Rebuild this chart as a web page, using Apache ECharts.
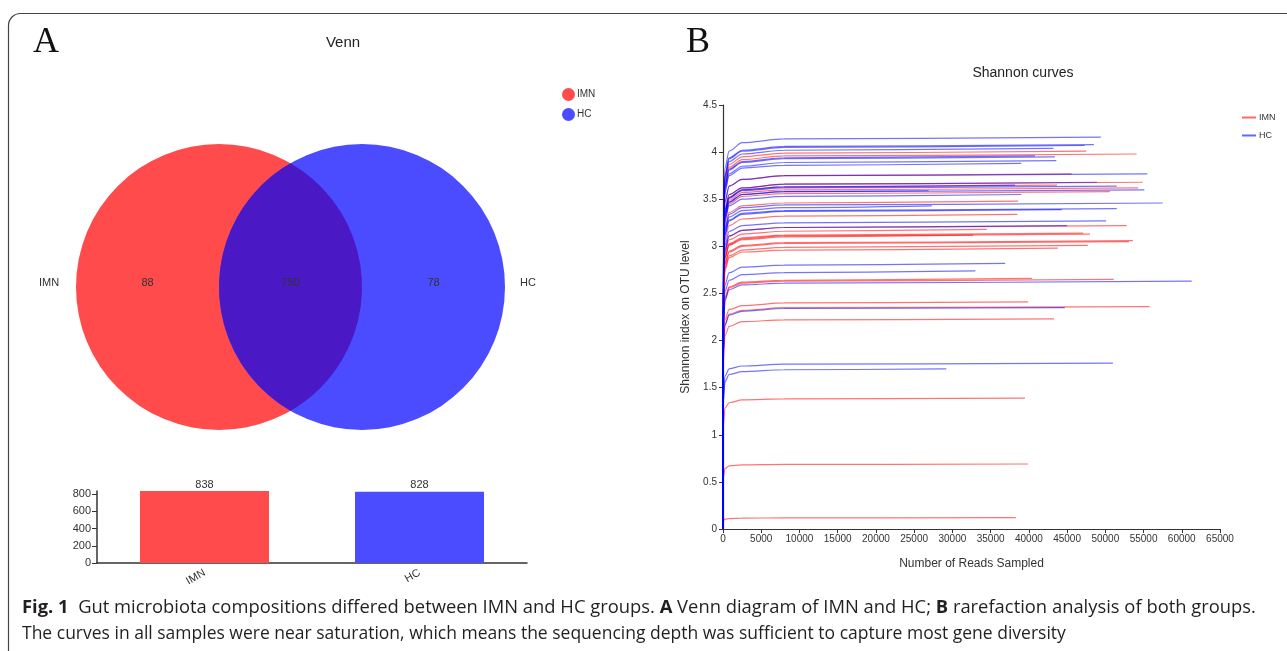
<!DOCTYPE html>
<html><head><meta charset="utf-8">
<script src="https://cdn.jsdelivr.net/npm/echarts@6/dist/echarts.min.js"></script>
<style>html,body{margin:0;padding:0;background:#fff}#c{width:1287px;height:651px}</style>
</head><body><div id="c"></div>
<script>
// ---------- data ----------
const groups = ['IMN', 'HC'];
const vennCounts = [88, 750, 78];          // IMN only, shared, HC only
const totalCounts = [838, 828];            // IMN, HC
const sampleDepths = [0, 60, 250, 800, 2500, 8000]; // reads sampled (shared early points)

// final sequencing depth of each IMN sample
const imnDepth = [47500, 54100, 45600, 54900, 43700, 54300, 50600, 38600, 38500, 52800, 34500, 47100, 48000,
  32700, 53600, 53100, 47700, 43800, 40400, 51100, 39900, 55800, 43300, 39500, 39900, 38300];
// Shannon value at each sampleDepths point, last entry = value at final depth
const imnCurves = [
  [0, 3.21, 3.69, 3.87, 3.95, 3.99, 4.01],
  [0, 3.18, 3.66, 3.84, 3.92, 3.96, 3.98],
  [0, 3.02, 3.47, 3.64, 3.71, 3.75, 3.77],
  [0, 2.94, 3.39, 3.55, 3.62, 3.66, 3.68],
  [0, 2.92, 3.36, 3.52, 3.60, 3.63, 3.65],
  [0, 2.90, 3.33, 3.49, 3.57, 3.60, 3.62],
  [0, 2.86, 3.29, 3.45, 3.53, 3.56, 3.58],
  [0, 2.78, 3.20, 3.36, 3.43, 3.46, 3.48],
  [0, 2.67, 3.07, 3.22, 3.29, 3.32, 3.34],
  [0, 2.58, 2.96, 3.11, 3.17, 3.20, 3.22],
  [0, 2.54, 2.93, 3.07, 3.13, 3.16, 3.18],
  [0, 2.51, 2.89, 3.03, 3.09, 3.12, 3.14],
  [0, 2.50, 2.88, 3.02, 3.08, 3.11, 3.13],
  [0, 2.50, 2.87, 3.01, 3.07, 3.10, 3.12],
  [0, 2.45, 2.82, 2.95, 3.01, 3.04, 3.06],
  [0, 2.44, 2.81, 2.94, 3.00, 3.03, 3.05],
  [0, 2.41, 2.77, 2.90, 2.96, 2.99, 3.01],
  [0, 2.38, 2.74, 2.88, 2.94, 2.96, 2.98],
  [0, 2.13, 2.45, 2.57, 2.62, 2.64, 2.66],
  [0, 2.12, 2.44, 2.56, 2.61, 2.63, 2.65],
  [0, 1.93, 2.22, 2.33, 2.37, 2.40, 2.41],
  [0, 1.89, 2.17, 2.28, 2.32, 2.35, 2.36],
  [0, 1.78, 2.05, 2.15, 2.20, 2.22, 2.23],
  [0, 1.11, 1.28, 1.34, 1.37, 1.38, 1.39],
  [0, 0.55, 0.64, 0.67, 0.68, 0.685, 0.69],
  [0, 0.09, 0.105, 0.11, 0.115, 0.118, 0.12]
];

const hcDepth = [49400, 48500, 47300, 43200, 40800, 43400, 43600, 39000, 55500, 48900, 38200, 51500, 55100,
  26900, 39000, 57500, 27300, 44300, 51500, 50100, 45000, 36900, 33000, 61300, 44700, 51000, 29200];
const hcCurves = [
  [0, 3.33, 3.83, 4.01, 4.10, 4.14, 4.16],
  [0, 3.26, 3.75, 3.94, 4.02, 4.06, 4.08],
  [0, 3.26, 3.74, 3.93, 4.01, 4.05, 4.07],
  [0, 3.23, 3.72, 3.90, 3.98, 4.02, 4.04],
  [0, 3.17, 3.64, 3.82, 3.90, 3.94, 3.96],
  [0, 3.16, 3.63, 3.81, 3.89, 3.93, 3.95],
  [0, 3.13, 3.60, 3.77, 3.85, 3.89, 3.91],
  [0, 3.11, 3.57, 3.75, 3.83, 3.86, 3.88],
  [0, 3.02, 3.47, 3.64, 3.71, 3.75, 3.77],
  [0, 2.94, 3.39, 3.55, 3.62, 3.66, 3.68],
  [0, 2.92, 3.36, 3.52, 3.60, 3.63, 3.65],
  [0, 2.91, 3.35, 3.51, 3.59, 3.62, 3.64],
  [0, 2.88, 3.31, 3.47, 3.55, 3.58, 3.60],
  [0, 2.88, 3.31, 3.47, 3.55, 3.58, 3.59],
  [0, 2.84, 3.27, 3.43, 3.50, 3.53, 3.55],
  [0, 2.77, 3.18, 3.34, 3.41, 3.44, 3.46],
  [0, 2.74, 3.16, 3.31, 3.38, 3.41, 3.43],
  [0, 2.71, 3.12, 3.27, 3.34, 3.37, 3.39],
  [0, 2.72, 3.13, 3.28, 3.35, 3.38, 3.40],
  [0, 2.62, 3.01, 3.16, 3.22, 3.25, 3.27],
  [0, 2.58, 2.96, 3.11, 3.17, 3.20, 3.22],
  [0, 2.26, 2.59, 2.72, 2.78, 2.80, 2.82],
  [0, 2.19, 2.52, 2.64, 2.70, 2.72, 2.74],
  [0, 2.10, 2.42, 2.54, 2.59, 2.61, 2.63],
  [0, 1.88, 2.16, 2.27, 2.31, 2.34, 2.35],
  [0, 1.41, 1.62, 1.70, 1.73, 1.75, 1.76],
  [0, 1.36, 1.56, 1.64, 1.67, 1.69, 1.70]
];

// ---------- style / layout ----------
const COL = { imn: '#ff4b4b', hc: '#4b4bff', shared: '#4a18c4', imnLine: 'rgba(255,0,0,0.55)', hcLine: 'rgba(0,0,255,0.55)', text: '#333' };
const VENN = { cxL: 219, cxR: 362, cy: 287, r: 143 };
const FONT = 'Liberation Sans, Arial, sans-serif';
const CAPFONT = '"Open Sans", "Liberation Sans", sans-serif';

function curveSeries(name, color, depths, curves) {
  return curves.map((vals, i) => ({
    type: 'line', name: name, xAxisIndex: 1, yAxisIndex: 1,
    showSymbol: false, symbol: 'none', silent: true,
    smooth: 0.3, smoothMonotone: 'x',
    lineStyle: { width: 1.2, color: color },
    itemStyle: { color: color },
    data: sampleDepths.map((x, k) => [x, vals[k]]).concat([[depths[i], vals[6]]])
  }));
}

const vennSeries = {
  type: 'custom', name: 'venn', coordinateSystem: 'none', silent: true,
  data: [vennCounts],
  renderItem: function (params, api) {
    const L = VENN.cxL, R = VENN.cxR, cy = VENN.cy, r = VENN.r;
    const mx = (L + R) / 2, a = (R - L) / 2, h = Math.sqrt(r * r - a * a);
    const lens = 'M' + mx + ' ' + (cy - h) + ' A' + r + ' ' + r + ' 0 0 1 ' + mx + ' ' + (cy + h) +
      ' A' + r + ' ' + r + ' 0 0 1 ' + mx + ' ' + (cy - h) + ' Z';
    const t = (txt, x) => ({ type: 'text', style: { text: String(txt), x: x, y: cy - 4, textAlign: 'center', textVerticalAlign: 'middle', fill: COL.text, font: '11px ' + FONT } });
    return { type: 'group', children: [
      { type: 'circle', shape: { cx: L, cy: cy, r: r }, style: { fill: COL.imn } },
      { type: 'circle', shape: { cx: R, cy: cy, r: r }, style: { fill: COL.hc } },
      { type: 'path', shape: { pathData: lens }, style: { fill: COL.shared } },
      t(api.value(0), (L - r + (R - r)) / 2),
      t(api.value(1), mx),
      t(api.value(2), (L + r + R + r) / 2),
      t(groups[0], L - r - 27),
      t(groups[1], R + r + 23)
    ] };
  }
};

const chart = echarts.init(document.getElementById('c'), null, { renderer: 'canvas' });
const axisCol = '#333';
chart.setOption({
  backgroundColor: '#fff',
  animation: false,
  textStyle: { fontFamily: FONT },
  grid: [
    { left: 97, top: 491, width: 430, height: 72 },
    { left: 723, top: 105, width: 497, height: 424 }
  ],
  xAxis: [
    { type: 'category', gridIndex: 0, data: groups,
      axisLine: { lineStyle: { color: axisCol, width: 1.5 } },
      axisTick: { alignWithLabel: true, length: 5, lineStyle: { color: axisCol } },
      axisLabel: { rotate: 30, fontSize: 11, color: axisCol, margin: 9 } },
    { type: 'value', gridIndex: 1, min: 0, max: 65000, interval: 5000,
      name: 'Number of Reads Sampled', nameLocation: 'middle', nameGap: 29,
      nameTextStyle: { fontSize: 12, color: axisCol },
      splitLine: { show: false },
      axisLine: { lineStyle: { color: axisCol, width: 1.2 } },
      axisTick: { length: 4, lineStyle: { color: axisCol } },
      axisLabel: { fontSize: 10, color: axisCol, margin: 5, formatter: v => String(v) } }
  ],
  yAxis: [
    { type: 'value', gridIndex: 0, min: 0, max: 838, interval: 200,
      splitLine: { show: false },
      axisLine: { show: true, lineStyle: { color: axisCol, width: 1.5 } },
      axisTick: { show: true, length: 5, lineStyle: { color: axisCol } },
      axisLabel: { fontSize: 11, color: axisCol, margin: 6 } },
    { type: 'value', gridIndex: 1, min: 0, max: 4.5, interval: 0.5,
      name: 'Shannon index on OTU level', nameLocation: 'middle', nameGap: 31, nameRotate: 90,
      nameTextStyle: { fontSize: 12, color: axisCol },
      splitLine: { show: false },
      axisLine: { show: true, lineStyle: { color: axisCol, width: 1.2 } },
      axisTick: { show: true, length: 4, lineStyle: { color: axisCol } },
      axisLabel: { fontSize: 10, color: axisCol, margin: 6 } }
  ],
  legend: [
    { orient: 'vertical', left: 557, top: 83, itemWidth: 13, itemHeight: 13, itemGap: 7, selectedMode: false,
      textStyle: { fontSize: 10, color: axisCol, padding: [0, 0, 0, -3] },
      data: [{ name: 'IMN', icon: 'circle', itemStyle: { color: COL.imn } },
             { name: 'HC', icon: 'circle', itemStyle: { color: COL.hc } }] },
    { orient: 'vertical', left: 1237, top: 108, itemWidth: 14, itemHeight: 2, itemGap: 9, selectedMode: false,
      textStyle: { fontSize: 9, color: axisCol, padding: [0, 0, 0, -2] },
      data: [{ name: 'IMN', icon: 'rect', itemStyle: { color: 'rgba(255,0,0,0.6)' } },
             { name: 'HC', icon: 'rect', itemStyle: { color: 'rgba(0,0,255,0.6)' } }] }
  ],
  series: [
    vennSeries,
    { type: 'bar', name: 'total', xAxisIndex: 0, yAxisIndex: 0, barWidth: '60%', silent: true,
      data: totalCounts.map((v, i) => ({ value: v, itemStyle: { color: i === 0 ? COL.imn : COL.hc } })),
      label: { show: true, position: 'top', distance: 1, fontSize: 11, color: axisCol } }
  ].concat(curveSeries('IMN', COL.imnLine, imnDepth, imnCurves))
   .concat(curveSeries('HC', COL.hcLine, hcDepth, hcCurves)),
  graphic: [
    { type: 'rect', silent: true, shape: { x: 8.5, y: 13.5, width: 1320, height: 700, r: 12 },
      style: { fill: 'none', stroke: '#444', lineWidth: 1.2 } },
    { type: 'text', x: 33, y: 43, style: { text: 'A', font: '36px "Liberation Serif", serif', fill: '#111', textVerticalAlign: 'middle' } },
    { type: 'text', x: 686, y: 43, style: { text: 'B', font: '36px "Liberation Serif", serif', fill: '#111', textVerticalAlign: 'middle' } },
    { type: 'text', x: 343, y: 43, style: { text: 'Venn', font: '15px ' + FONT, fill: '#222', textAlign: 'center', textVerticalAlign: 'middle' } },
    { type: 'text', x: 1023, y: 73, style: { text: 'Shannon curves', font: '14px ' + FONT, fill: '#222', textAlign: 'center', textVerticalAlign: 'middle' } },
    { type: 'text', x: 22, y: 608, scaleX: 1.05, style: {
        text: '{b|Fig. 1}  Gut microbiota compositions differed between IMN and HC groups. {b|A} Venn diagram of IMN and HC; {b|B} rarefaction analysis of both groups.',
        font: '17.5px ' + CAPFONT, fill: '#231f20', textVerticalAlign: 'middle',
        rich: { b: { fontWeight: 'bold', fontSize: 17.5, fontFamily: CAPFONT, fill: '#231f20' } } } },
    { type: 'text', x: 22, y: 634, style: {
        text: 'The curves in all samples were near saturation, which means the sequencing depth was sufficient to capture most gene diversity',
        font: '17.5px ' + CAPFONT, fill: '#231f20', textVerticalAlign: 'middle' } }
  ]
});
</script></body></html>
